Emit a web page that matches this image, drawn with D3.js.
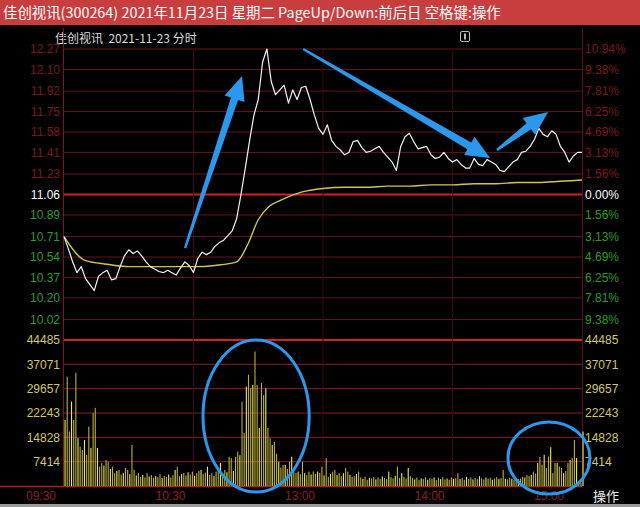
<!DOCTYPE html>
<html>
<head>
<meta charset="utf-8">
<script src="https://cdn.jsdelivr.net/npm/d3@7/dist/d3.min.js"></script>
<style>
  html, body { margin: 0; padding: 0; background: #000; }
  svg { display: block; }
</style>
</head>
<body>
<svg id="chart"></svg>
<script>
// prices every 2 minutes, 09:30 .. 15:00 (121 points)
var prices = [
  10.71, 10.61, 10.50, 10.41, 10.46, 10.36, 10.31, 10.26, 10.38, 10.41,
  10.43, 10.35, 10.36, 10.46, 10.55, 10.60, 10.57, 10.59, 10.55, 10.50,
  10.46, 10.44, 10.42, 10.41, 10.43, 10.41, 10.39, 10.45, 10.50, 10.47,
  10.41, 10.53, 10.58, 10.56, 10.58, 10.63, 10.66, 10.68, 10.72, 10.76,
  10.86, 11.06, 11.28, 11.51, 11.72, 11.85, 12.16, 12.27, 12.00, 11.89,
  11.93, 11.97, 11.82, 11.93, 11.85, 11.95, 11.96, 11.85, 11.72, 11.61,
  11.56, 11.64, 11.51, 11.46, 11.43, 11.39, 11.41, 11.50, 11.51, 11.45,
  11.41, 11.42, 11.44, 11.46, 11.41, 11.37, 11.33, 11.26, 11.46, 11.54,
  11.57, 11.50, 11.44, 11.45, 11.46, 11.39, 11.36, 11.37, 11.41, 11.36,
  11.33, 11.35, 11.31, 11.28, 11.28, 11.36, 11.31, 11.30, 11.35, 11.33,
  11.31, 11.26, 11.25, 11.29, 11.33, 11.35, 11.41, 11.42, 11.46, 11.52,
  11.61, 11.56, 11.54, 11.59, 11.56, 11.46, 11.41, 11.33, 11.38, 11.41,
  11.41
];

// average price line
var avgMinutes = [0, 10, 20, 30, 40, 50, 60, 70, 80, 85, 90, 95, 100, 110, 120, 130, 140, 150, 160, 170, 180, 190, 200, 210, 220, 230, 240];
var avgPrices  = [10.71, 10.51, 10.48, 10.46, 10.46, 10.46, 10.46, 10.47, 10.50, 10.64, 10.85, 10.96, 11.01, 11.08, 11.11, 11.12, 11.12, 11.13, 11.13, 11.14, 11.14, 11.15, 11.15, 11.16, 11.16, 11.17, 11.18];

// volume per minute (241 bars)
var volumes = [
  20100, 33300, 16600, 25700, 20100, 34500, 14600, 12000, 11000, 14000,
  9500, 18100, 11600, 22200, 23800, 11600, 5900, 7000, 6200, 7900,
  7400, 5200, 5900, 3900, 4600, 4900, 3500, 3900, 5500, 4900,
  3600, 12500, 4900, 3200, 3900, 2800, 3400, 2600, 3900, 2900,
  3300, 2500, 3000, 2700, 3600, 2400, 3100, 2800, 3500, 2600,
  3300, 4900, 5900, 3000, 3600, 4000, 3200, 4200, 3500, 4400,
  3100, 3900, 4600, 4900, 3600, 4100, 5900, 3400, 3900, 3000,
  4400, 4900, 7000, 3800, 4900, 4200, 8900, 8500, 4600, 8900,
  10500, 9400, 25700, 16100, 30300, 33900, 29800, 30800, 41000, 30800,
  17700, 31400, 27700, 29800, 17700, 14600, 12500, 13500, 9800, 7400,
  5600, 6400, 6400, 5200, 7400, 8900, 4400, 4000, 4400, 3600,
  7400, 3900, 3300, 4400, 3500, 4400, 3700, 4400, 4000, 5900,
  3200, 8500, 2800, 3600, 4400, 4900, 3300, 3900, 3000, 3900,
  5500, 4400, 3400, 2800, 3000, 3700, 4400, 2600, 2200, 2800,
  1900, 2500, 2300, 2800, 2000, 2600, 2200, 2900, 2400, 2100,
  4400, 2700, 2300, 3100, 5900, 2500, 3900, 2800, 2300, 5500,
  3000, 2400, 2000, 2600, 1800, 2300, 2100, 2700, 1900, 2400,
  2200, 2600, 1800, 2500, 2100, 2800, 2000, 2300, 1900, 2600,
  2200, 2400, 3900, 2100, 2500, 1900, 2800, 2200, 2600, 2000,
  2400, 2100, 3000, 2300, 2000, 2600, 2200, 2500, 1900, 2300,
  2700, 2100, 2400, 4900, 2200, 2000, 2500, 2200, 1900, 2400,
  2100, 2300, 2800, 2600, 3400, 3000, 3400, 4400, 3800, 7000,
  8900, 6500, 9500, 5500, 9000, 11800, 3900, 7000, 7000, 5900,
  5500, 3900, 4600, 7000, 7900, 8500, 14000, 8500, 1500, 900,
  16600
];

var basePrice = 11.06;
var priceTicks = [12.27, 12.10, 11.92, 11.75, 11.58, 11.41, 11.23, 11.06, 10.89, 10.71, 10.54, 10.37, 10.20, 10.02];
var pctTicks = ['10.94%', '9.38%', '7.81%', '6.25%', '4.69%', '3.13%', '1.56%', '0.00%', '1.56%', '3.13%', '4.69%', '6.25%', '7.81%', '9.38%'];
var volTicks = [44485, 37071, 29657, 22243, 14828, 7414];
var timeTicks = [0, 60, 120, 180, 240];
var timeLabels = ['09:30', '10:30', '13:00', '14:00', '15:00'];

// hand-drawn annotations, in chart units
var arrows = [
  { from: [56.1, 10.615], to: [82.5, 12.046] },
  { from: [110.8, 12.27], to: [197.4, 11.364] },
  { from: [200.6, 11.43], to: [224.3, 11.746] }
];
var rings = [
  { m: 89, v: 21300, rm: 24.6, rv: 23150 },
  { m: 224.7, v: 8530, rm: 19, rv: 11000 }
];

var width = 640, height = 507;
var svg = d3.select('#chart').attr('width', width).attr('height', height);

var x = d3.scaleLinear().domain([0, 240]).range([64, 582]);
var yP = d3.scaleLinear().domain([9.85, 12.27]).range([340, 49]);
var yV = d3.scaleLinear().domain([0, 44485]).range([486, 340]);

svg.append('rect').attr('width', width).attr('height', height).attr('fill', '#000');

// title bar
svg.append('rect').attr('x', 0).attr('y', 0).attr('width', width).attr('height', 25).attr('fill', '#c83e3e');
svg.append('text').attr('x', 3).attr('y', 18)
  .attr('fill', '#fff').attr('font-size', 14.4)
  .attr('font-family', '"Noto Sans CJK SC", "Noto Sans", sans-serif')
  .text('佳创视讯(300264) 2021年11月23日 星期二 PageUp/Down:前后日 空格键:操作');

svg.append('text').attr('x', 55).attr('y', 43)
  .attr('fill', '#dcdcdc').attr('font-size', 12)
  .attr('font-family', '"Noto Sans CJK SC", "Noto Sans", sans-serif')
  .attr('xml:space', 'preserve')
  .text('佳创视讯  2021-11-23 分时');

// small icon
svg.append('rect').attr('x', 460.5).attr('y', 31.5).attr('width', 9).attr('height', 10).attr('rx', 1.5)
  .attr('fill', 'none').attr('stroke', '#bbb');
svg.append('rect').attr('x', 464).attr('y', 33.5).attr('width', 2).attr('height', 6).attr('fill', '#bbb');

// price grid
svg.append('g').selectAll('line').data(priceTicks).join('line')
  .attr('x1', 64).attr('x2', 582)
  .attr('y1', function(d) { return yP(d); }).attr('y2', function(d) { return yP(d); })
  .attr('stroke', function(d) { return d === basePrice ? '#d42020' : '#6a1414'; })
  .attr('stroke-width', function(d) { return d === basePrice ? 2 : 1; });

// volume grid
svg.append('g').selectAll('line').data(volTicks).join('line')
  .attr('x1', 64).attr('x2', 582)
  .attr('y1', function(d) { return yV(d); }).attr('y2', function(d) { return yV(d); })
  .attr('stroke', function(d, i) { return i === 0 ? '#d42020' : '#8c1c26'; })
  .attr('stroke-width', function(d, i) { return i === 0 ? 2 : 1; });

// vertical grid
svg.append('g').selectAll('line').data(timeTicks.slice(1, 4)).join('line')
  .attr('x1', function(d) { return x(d); }).attr('x2', function(d) { return x(d); })
  .attr('y1', 49).attr('y2', 486)
  .attr('stroke', '#3e0c0c').attr('stroke-width', 1);

// borders
svg.append('line').attr('x1', 63.5).attr('x2', 63.5).attr('y1', 28).attr('y2', 486).attr('stroke', '#7a1818');
svg.append('line').attr('x1', 582.5).attr('x2', 582.5).attr('y1', 28).attr('y2', 486).attr('stroke', '#5a1212');
svg.append('line').attr('x1', 0).attr('x2', 582).attr('y1', 486.5).attr('y2', 486.5).attr('stroke', '#b02020').attr('stroke-width', 1.5);

// axis labels
var numFont = '"Liberation Sans", Arial, sans-serif';
function priceColor(d) {
  if (d > basePrice) return '#7a1a1a';
  if (d < basePrice) return '#2e9a2e';
  return '#ffffff';
}
svg.append('g').selectAll('text').data(priceTicks).join('text')
  .attr('x', 60).attr('y', function(d) { return yP(d); })
  .attr('dy', '0.36em').attr('text-anchor', 'end')
  .attr('font-family', numFont).attr('font-size', 12)
  .attr('fill', priceColor)
  .text(function(d) { return d.toFixed(2); });
svg.append('g').selectAll('text').data(priceTicks).join('text')
  .attr('x', 585).attr('y', function(d) { return yP(d); })
  .attr('dy', '0.36em')
  .attr('font-family', numFont).attr('font-size', 12)
  .attr('fill', priceColor)
  .text(function(d, i) { return pctTicks[i]; });
svg.append('g').selectAll('text').data(volTicks).join('text')
  .attr('x', 60).attr('y', function(d) { return yV(d); })
  .attr('dy', '0.36em').attr('text-anchor', 'end')
  .attr('font-family', numFont).attr('font-size', 12)
  .attr('fill', '#d2c66a')
  .text(function(d) { return d; });
svg.append('g').selectAll('text').data(volTicks).join('text')
  .attr('x', 585).attr('y', function(d) { return yV(d); })
  .attr('dy', '0.36em')
  .attr('font-family', numFont).attr('font-size', 12)
  .attr('fill', '#d2c66a')
  .text(function(d) { return d; });
svg.append('g').selectAll('text').data(timeTicks).join('text')
  .attr('x', function(d) { return x(d) - (d === 240 ? 18 : 8); }).attr('y', 500)
  .attr('text-anchor', 'end')
  .attr('font-family', numFont).attr('font-size', 12)
  .attr('fill', '#8a2222')
  .text(function(d, i) { return timeLabels[i]; });

svg.append('text').attr('x', 593).attr('y', 501)
  .attr('fill', '#eee').attr('font-size', 13)
  .attr('font-family', '"Noto Sans CJK SC", sans-serif')
  .text('操作');
svg.append('rect').attr('x', 0).attr('y', 504).attr('width', width).attr('height', 3).attr('fill', '#9a9a9a');

// volume bars
svg.append('g').selectAll('rect').data(volumes).join('rect')
  .attr('x', function(d, i) { return x(i) + 0.5; })
  .attr('y', function(d) { return yV(d); })
  .attr('width', 1.1)
  .attr('height', function(d) { return yV(0) - yV(d); })
  .attr('fill', function(d, i) { return i % 3 === 0 ? '#eee85a' : '#b8ae3a'; });

// average price line
svg.append('path')
  .datum(avgMinutes.map(function(m, i) { return [m, avgPrices[i]]; }))
  .attr('fill', 'none').attr('stroke', '#cfc45a').attr('stroke-width', 1.4)
  .attr('d', d3.line()
    .curve(d3.curveMonotoneX)
    .x(function(d) { return x(d[0]); })
    .y(function(d) { return yP(d[1]); }));

// price line
svg.append('path')
  .datum(prices)
  .attr('fill', 'none').attr('stroke', '#f4f4f4').attr('stroke-width', 1.2)
  .attr('stroke-linejoin', 'round')
  .attr('d', d3.line()
    .x(function(d, i) { return x(i * 2); })
    .y(function(d) { return yP(d); }));

// annotations
var blue = '#2c98ec';
function arrowPoints(a) {
  var x0 = x(a.from[0]), y0 = yP(a.from[1]);
  var x1 = x(a.to[0]), y1 = yP(a.to[1]);
  var dx = x1 - x0, dy = y1 - y0, L = Math.sqrt(dx * dx + dy * dy);
  var ux = dx / L, uy = dy / L, nx = -uy, ny = ux;
  var hl = 24, bx = x1 - ux * hl, by = y1 - uy * hl;
  function p(px, py, w) { return [px + nx * w, py + ny * w]; }
  return [
    p(x0, y0, 1.2), p(bx, by, 3.8), p(bx, by, 10.5), [x1, y1],
    p(bx, by, -10.5), p(bx, by, -3.8), p(x0, y0, -1.2)
  ];
}
svg.append('g').selectAll('polygon').data(arrows).join('polygon')
  .attr('points', function(d) { return arrowPoints(d).map(function(p) { return p.join(','); }).join(' '); })
  .attr('fill', blue);

svg.append('g').selectAll('ellipse').data(rings).join('ellipse')
  .attr('cx', function(d) { return x(d.m); })
  .attr('cy', function(d) { return yV(d.v); })
  .attr('rx', function(d) { return x(d.rm) - x(0); })
  .attr('ry', function(d) { return yV(0) - yV(d.rv); })
  .attr('fill', 'none').attr('stroke', blue).attr('stroke-width', 3);
</script>
</body>
</html>
